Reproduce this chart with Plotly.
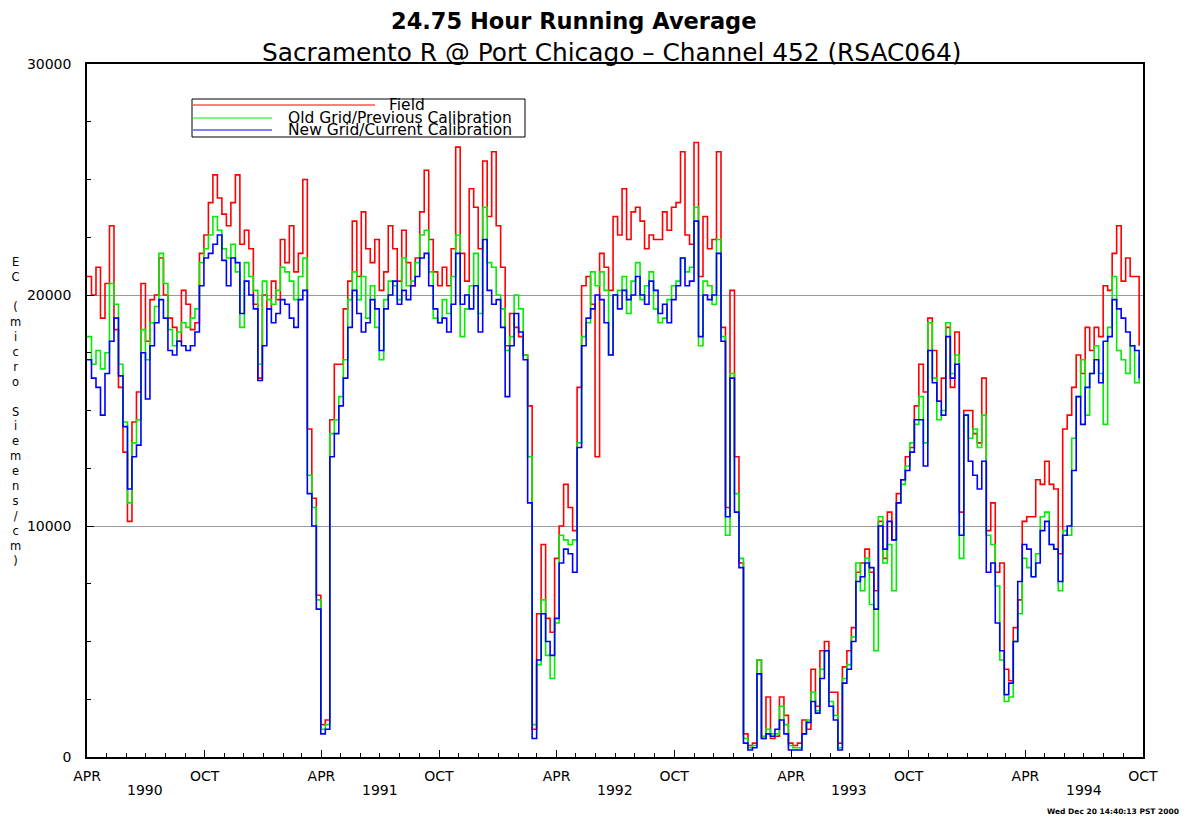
import pandas as pd
import plotly.graph_objects as go

# Weekly readings (thousands of micro Siemens/cm), starting 1990-04-01
field_k = [
    20.8, 20.0, 21.2, 19.0, 20.5, 23.0, 18.5, 16.0, 13.2, 10.2, 14.5, 15.8, 20.5, 18.0, 19.8, 20.0, 21.6, 20.0, 19.0, 18.6,
    18.0, 20.2, 19.6, 18.5, 18.8, 21.8, 22.6, 24.0, 25.2, 24.2, 23.5, 23.0, 24.0, 25.2, 22.2, 22.8, 22.0, 19.6, 16.4,
    20.0, 19.4, 20.6, 19.8, 22.4, 21.4, 23.0, 21.0, 21.8, 25.0, 14.2, 11.2, 7.0, 1.4, 1.6, 14.6, 17.0, 17.0, 19.4, 20.6,
    23.2, 20.8, 23.6, 22.0, 21.4, 22.4, 20.2, 21.0, 23.0, 22.0, 20.6, 22.8, 21.4, 20.4, 21.6, 23.6, 25.4, 22.4, 21.0, 20.4,
    21.2, 20.4, 22.0, 26.4, 21.8, 20.6, 24.6, 23.8, 22.0, 25.8, 23.4, 26.2, 23.0, 21.2, 17.8, 19.2, 18.6, 18.2, 17.4, 15.2,
    1.2, 6.2, 9.2, 6.0, 5.4, 8.6, 10.0, 11.8, 10.8, 9.8, 16.0, 20.4, 20.8, 19.6, 13.0, 21.8, 21.2, 20.2, 23.4, 22.6,
    24.6, 22.4, 23.6, 23.8, 23.2, 22.0, 22.6, 22.4, 22.4, 23.6, 22.8, 23.8, 24.0, 26.2, 22.6, 22.2, 26.6, 20.8, 23.4, 22.0,
    22.4, 26.2, 18.6, 10.8, 20.2, 13.0, 8.4, 1.0, 0.5, 0.6, 4.2, 0.8, 2.6, 0.8, 0.9, 2.6, 1.8, 0.6, 0.5,
    0.6, 1.6, 1.2, 3.8, 2.2, 4.6, 5.0, 2.8, 2.8, 0.6, 3.9, 4.6, 5.6, 8.0, 8.4, 9.0, 8.0, 7.2, 10.2, 8.6,
    10.6, 9.4, 11.4, 12.0, 13.0, 13.4, 15.2, 17.0, 15.8, 19.0, 17.6, 15.4, 16.4, 18.6, 16.0, 18.4, 10.6, 15.0, 15.0,
    14.0, 13.6, 16.4, 9.8, 11.0, 8.0, 8.4, 3.8, 3.3, 5.6, 6.8, 10.2, 10.4, 10.4, 12.0, 11.8, 12.8, 11.8, 11.6, 8.8,
    14.2, 14.8, 16.0, 17.4, 16.6, 18.6, 17.6, 18.6, 18.2, 20.4, 20.2, 21.8, 23.0, 20.6, 21.6, 20.8, 20.8, 17.8,
]
old_grid_k = [
    18.2, 17.0, 17.6, 16.8, 17.5, 20.5, 19.6, 17.0, 14.5, 11.0, 13.6, 14.6, 18.5, 17.2, 18.8, 19.5, 21.8, 20.5, 18.5, 17.8,
    18.4, 18.8, 18.6, 19.0, 19.4, 21.4, 22.0, 22.6, 23.4, 22.8, 22.0, 21.6, 22.2, 21.0, 18.6, 21.4, 20.8, 20.2, 17.0,
    20.6, 19.8, 19.6, 20.2, 21.2, 21.0, 20.6, 19.8, 20.8, 21.6, 12.2, 10.8, 6.8, 1.2, 1.4, 14.0, 14.6, 15.6, 17.2, 19.8,
    21.0, 19.8, 20.8, 19.0, 20.4, 18.6, 17.2, 19.8, 20.6, 20.4, 19.8, 21.6, 20.4, 20.6, 21.4, 22.6, 22.8, 21.0, 19.0, 18.8,
    19.8, 19.2, 20.8, 22.6, 18.2, 19.4, 20.4, 21.8, 19.2, 23.8, 21.4, 21.2, 20.0, 19.4, 17.6, 18.2, 20.0, 19.4, 17.4, 13.0,
    1.4, 4.0, 6.8, 4.4, 3.4, 5.8, 9.6, 9.4, 9.2, 9.4, 13.6, 18.2, 18.8, 21.0, 20.4, 21.0, 20.2, 17.4, 20.0, 20.2,
    20.8, 19.2, 20.6, 21.4, 19.8, 20.4, 21.0, 19.4, 18.8, 19.0, 19.8, 20.4, 20.6, 21.6, 21.0, 21.2, 23.8, 17.8, 20.6, 20.4,
    19.6, 22.4, 18.2, 9.6, 16.6, 11.4, 8.6, 0.8, 0.4, 0.5, 4.2, 0.9, 1.2, 1.0, 1.0, 2.2, 1.4, 0.5, 0.4,
    0.4, 1.0, 1.6, 2.8, 2.0, 3.8, 4.6, 2.4, 1.8, 0.4, 3.4, 4.0, 5.2, 8.4, 7.2, 8.6, 6.6, 4.6, 10.4, 8.4,
    9.2, 7.2, 11.0, 11.8, 12.6, 13.6, 14.4, 15.6, 13.6, 18.8, 16.4, 14.6, 15.0, 18.8, 16.6, 17.4, 8.6, 14.8, 13.8,
    14.2, 13.4, 14.8, 9.6, 9.2, 7.4, 4.2, 2.4, 2.6, 5.0, 6.2, 8.6, 8.2, 7.8, 8.8, 10.4, 10.6, 9.2, 9.0, 7.2,
    9.8, 9.6, 13.8, 15.6, 17.2, 14.8, 16.6, 17.8, 16.6, 14.4, 18.6, 20.8, 17.6, 17.2, 16.6, 17.8, 16.2, 17.4,
]
new_grid_k = [
    17.2, 16.4, 16.0, 14.8, 16.6, 18.0, 19.0, 16.5, 14.3, 11.6, 13.0, 13.5, 17.5, 15.5, 17.8, 18.8, 19.8, 19.0, 17.6, 17.4,
    18.0, 17.8, 17.6, 17.8, 18.4, 20.4, 21.6, 21.8, 22.2, 22.6, 21.5, 20.4, 21.6, 21.4, 19.2, 20.6, 20.0, 19.4, 16.3,
    17.8, 19.4, 18.8, 19.2, 19.8, 19.6, 19.0, 18.6, 19.8, 20.2, 11.4, 10.0, 6.4, 1.0, 1.2, 13.0, 14.0, 15.2, 16.4, 18.6,
    20.2, 19.2, 18.4, 18.8, 19.8, 19.4, 17.6, 19.4, 20.0, 20.6, 19.6, 20.2, 19.8, 20.4, 20.8, 21.6, 21.8, 20.4, 19.4, 18.8,
    19.0, 18.4, 19.6, 21.8, 19.6, 20.0, 19.4, 20.4, 18.4, 22.4, 20.2, 19.6, 19.8, 18.6, 15.6, 17.8, 19.2, 18.4, 17.2, 11.0,
    0.8, 4.2, 6.2, 5.0, 4.4, 6.0, 8.4, 9.0, 8.8, 8.0, 13.4, 17.8, 19.0, 19.4, 20.0, 19.8, 18.8, 17.4, 20.0, 19.4,
    20.2, 19.8, 20.0, 20.8, 20.0, 19.6, 20.6, 20.2, 19.2, 19.6, 18.8, 19.8, 20.4, 21.6, 20.4, 20.6, 23.2, 18.2, 20.0, 19.8,
    20.0, 21.8, 18.0, 10.4, 16.4, 10.6, 8.2, 0.6, 0.3, 0.4, 3.6, 0.8, 1.0, 0.9, 1.2, 1.6, 1.0, 0.3, 0.3,
    0.3, 1.0, 1.5, 2.4, 1.9, 3.4, 4.6, 2.2, 1.6, 0.3, 3.2, 3.8, 5.0, 7.6, 7.8, 8.4, 8.2, 6.4, 10.0, 9.0,
    10.2, 9.4, 11.0, 12.0, 12.4, 13.2, 14.6, 14.6, 12.6, 17.6, 16.2, 15.4, 14.8, 18.2, 16.4, 17.0, 9.6, 14.8, 12.8,
    12.2, 11.6, 12.8, 8.0, 8.4, 5.8, 4.6, 2.7, 3.2, 5.0, 7.6, 9.2, 9.0, 7.8, 8.4, 9.8, 10.2, 9.2, 9.0, 7.6,
    9.6, 10.0, 12.4, 15.6, 14.4, 16.0, 16.6, 17.2, 16.2, 18.0, 18.2, 19.8, 19.4, 19.0, 18.4, 17.8, 17.6, 16.4,
]

series_names = ["Field", "Old Grid/Previous Calibration", "New Grid/Current Calibration"]
series_colors = ["#ff0000", "#00ee00", "#0000ff"]

x_tick_dates = ["1990-04-01", "1990-10-01", "1991-04-01", "1991-10-01", "1992-04-01",
                "1992-10-01", "1993-04-01", "1993-10-01", "1994-04-01", "1994-10-01"]
x_tick_text = ["APR", "OCT", "APR", "OCT", "APR", "OCT", "APR", "OCT", "APR", "OCT"]
year_dates = ["1990-07-01", "1991-07-01", "1992-07-01", "1993-07-01", "1994-07-01"]
year_text = ["1990", "1991", "1992", "1993", "1994"]
y_tick_vals = [0, 10000, 20000, 30000]
y_tick_text = ["0", "10000", "20000", "30000"]

FONT = "DejaVu Sans, Verdana, sans-serif"

fig = go.Figure()
for name, color, vals in zip(series_names, series_colors, [field_k, old_grid_k, new_grid_k]):
    dates = pd.date_range("1990-04-01", periods=len(vals), freq="7D")
    fig.add_trace(go.Scatter(
        x=dates, y=[v * 1000 for v in vals], mode="lines", name=name,
        line=dict(color=color, width=1.6, shape="hv"),
    ))

# The page body adds an 8px offset; size and margins compensate so that
# the plot area lands at x 87..1143, y 64..757 of the 1188x819 window.
fig.update_layout(
    width=1180, height=811,
    margin=dict(l=79, r=45, t=56, b=62),
    paper_bgcolor="white", plot_bgcolor="white",
    showlegend=False,
    font=dict(family=FONT, color="black", size=14),
)

fig.update_xaxes(
    type="date", range=["1990-04-01", "1994-10-01"],
    tickmode="array", tickvals=x_tick_dates, ticktext=x_tick_text,
    ticks="inside", ticklen=7, tickwidth=1, tickcolor="black",
    showline=True, linecolor="black", linewidth=1.5, mirror=True,
    showgrid=False, zeroline=False,
    tickfont=dict(size=14, family=FONT),
    ticklabelstandoff=5,
    minor=dict(ticks="inside", ticklen=4, tickcolor="black", dtick="M1",
               tick0="1990-04-01", showgrid=False),
)
fig.update_yaxes(
    range=[0, 30000],
    tickmode="array", tickvals=y_tick_vals, ticktext=y_tick_text,
    ticks="inside", ticklen=7, tickwidth=1, tickcolor="black",
    showline=True, linecolor="black", linewidth=1.5, mirror=True,
    showgrid=True, gridcolor="#9a9a9a", gridwidth=1, zeroline=False,
    tickfont=dict(size=14, family=FONT),
    ticklabelstandoff=11,
    minor=dict(ticks="inside", ticklen=4, tickcolor="black", dtick=2500,
               tick0=0, showgrid=False),
)

annotations = []
# Titles
annotations.append(dict(text="<b>24.75 Hour Running Average</b>", x=0.461, y=1.0625,
                         xref="paper", yref="paper", showarrow=False,
                         font=dict(size=22.5, family=FONT), xanchor="center", yanchor="middle"))
annotations.append(dict(text="Sacramento R @ Port Chicago \u2013 Channel 452 (RSAC064)", x=0.497, y=1.0173,
                         xref="paper", yref="paper", showarrow=False,
                         font=dict(size=24.8, family=FONT), xanchor="center", yanchor="middle"))
# Year labels
for d, t in zip(year_dates, year_text):
    annotations.append(dict(text=t, x=d, y=-0.048, xref="x", yref="paper", showarrow=False,
                            font=dict(size=14, family=FONT), xanchor="center", yanchor="middle"))
# Vertical y-axis title
chars = list("EC") + ["\u00a0"] + [c if c != " " else "\u00a0" for c in "(micro Siemens/cm)"]
annotations.append(dict(text="<br>".join(chars), x=-0.068, y=0.498, xref="paper", yref="paper",
                        showarrow=False, font=dict(size=11.5, family=FONT),
                        xanchor="center", yanchor="middle", align="center"))
# Timestamp
annotations.append(dict(text="<b>Wed Dec 20 14:40:13 PST 2000</b>", x=1.036, y=-0.079,
                        xref="paper", yref="paper", showarrow=False,
                        font=dict(size=7.5, family=FONT), xanchor="right", yanchor="middle"))

# Legend (drawn manually)
def px_x(p):
    return (p - 87) / 1056.0

def px_y(p):
    return (757 - p) / 693.0

shapes = [dict(type="rect", xref="paper", yref="paper",
               x0=px_x(192), x1=px_x(525), y0=px_y(137), y1=px_y(99),
               line=dict(color="black", width=1), fillcolor="white", layer="above")]
legend_rows = [(105, 375, 387), (118, 272, 286), (130, 272, 286)]
for (ly, lx1, tx), name, color in zip(legend_rows, series_names, series_colors):
    shapes.append(dict(type="line", xref="paper", yref="paper",
                       x0=px_x(193), x1=px_x(lx1), y0=px_y(ly), y1=px_y(ly),
                       line=dict(color=color, width=1.2), layer="above"))
    annotations.append(dict(text=name, x=px_x(tx), y=px_y(ly), xref="paper", yref="paper",
                            showarrow=False, font=dict(size=15.5, family=FONT),
                            xanchor="left", yanchor="middle"))

fig.update_layout(annotations=annotations, shapes=shapes)

fig.write_html("out.html")
